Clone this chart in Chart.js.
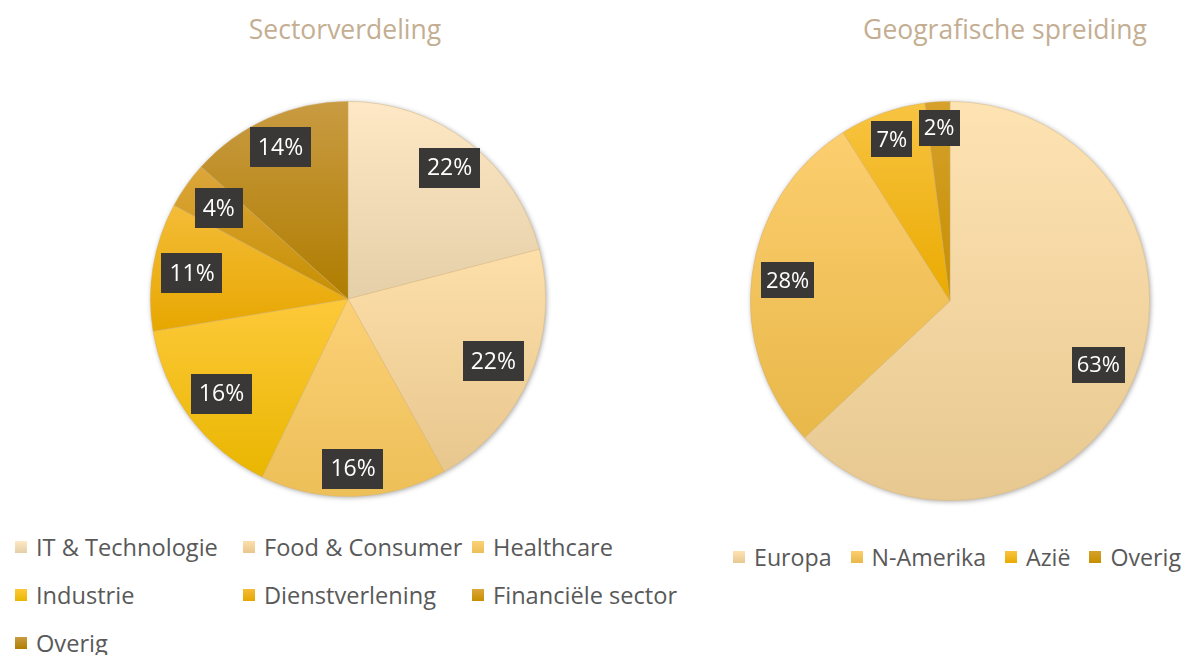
<!DOCTYPE html>
<html>
<head>
<meta charset="utf-8">
<script src="https://cdn.jsdelivr.net/npm/chart.js@4"></script>
<style>
  html, body { margin:0; padding:0; background:#ffffff; }
  #wrap { position:relative; width:1186px; height:655px; overflow:hidden; font-family:'Open Sans', sans-serif; }
  .title { position:absolute; top:11px; font-size:26.5px; font-weight:500; color:#C4AE92; white-space:nowrap; transform:translateX(-50%); }
  .pie { position:absolute; }
  .legend { position:absolute; color:#595959; }
  .legend .item { display:flex; align-items:center; height:48px; white-space:nowrap; }
  .legend .box { width:12px; height:12px; margin-right:9px; flex:none; }
  #legL { left:15px; top:523px; display:grid; grid-template-columns:228px 229px 220px; font-size:23.6px; }
  #legR { left:733px; top:533px; display:flex; gap:0 19px; font-size:23.2px; }
</style>
</head>
<body>
<div id="wrap">
  <div class="title" style="left:345px">Sectorverdeling</div>
  <div class="title" style="left:1005px">Geografische spreiding</div>
  <div class="pie" style="left:140px;top:91px;width:416px;height:416px"><canvas id="c1"></canvas></div>
  <div class="pie" style="left:740px;top:91px;width:420px;height:420px"><canvas id="c2"></canvas></div>
  <div class="legend" id="legL"></div>
  <div class="legend" id="legR"></div>
</div>
<script>
// ---- data ----
const sectorLabels = ['IT & Technologie', 'Food & Consumer', 'Healthcare', 'Industrie', 'Dienstverlening', 'Financiële sector', 'Overig'];
const sectorValues = [22, 22, 16, 16, 11, 4, 14];
const geoLabels = ['Europa', 'N-Amerika', 'Azië', 'Overig'];
const geoValues = [63, 28, 7, 2];

// ---- colours (top, bottom of each slice gradient) ----
const sectorColors = [
  ['#FEE8C5', '#E4CFA8'],
  ['#FDDFAA', '#E8C78E'],
  ['#FCD176', '#EDBF58'],
  ['#FDC93A', '#E9B600'],
  ['#F4BC38', '#E7A700'],
  ['#DCA63C', '#C68F00'],
  ['#C99B42', '#AF7D00']
];
const geoColors = [
  ['#FEE3B3', '#E7C890'],
  ['#FCCE6E', '#E8B84A'],
  ['#F8C442', '#EAAA00'],
  ['#D6A12C', '#C68F00']
];

function sliceGradient(colors) {
  return function(ctx) {
    const chart = ctx.chart;
    const area = chart.chartArea;
    const pair = colors[ctx.dataIndex];
    if (!area) return pair[0];
    const data = chart.data.datasets[0].data;
    const total = data.reduce((a, b) => a + b, 0);
    let cum = 0;
    for (let k = 0; k < ctx.dataIndex; k++) cum += data[k];
    const a0 = -Math.PI / 2 + cum / total * 2 * Math.PI;
    const a1 = a0 + data[ctx.dataIndex] / total * 2 * Math.PI;
    const cx = (area.left + area.right) / 2, cy = (area.top + area.bottom) / 2;
    const r = Math.min(area.right - area.left, area.bottom - area.top) / 2;
    const ys = [cy, cy + r * Math.sin(a0), cy + r * Math.sin(a1)];
    [-Math.PI / 2, Math.PI / 2, 3 * Math.PI / 2].forEach(t => { if (t > a0 && t < a1) ys.push(cy + r * Math.sin(t)); });
    const top = Math.min(...ys), bot = Math.max(...ys);
    const g = chart.ctx.createLinearGradient(0, top, 0, bot + 0.01);
    g.addColorStop(0, pair[0]);
    g.addColorStop(1, pair[1]);
    return g;
  };
}

const shadowPlugin = {
  id: 'pieShadow',
  beforeDatasetsDraw(chart) {
    const arc = chart.getDatasetMeta(0).data[0];
    if (!arc) return;
    const c = chart.ctx;
    c.save();
    c.shadowColor = 'rgba(0,0,0,0.35)';
    c.shadowBlur = 5;
    c.shadowOffsetX = 1;
    c.shadowOffsetY = 1;
    c.fillStyle = '#e8d2a8';
    c.beginPath();
    c.arc(arc.x, arc.y, arc.outerRadius, 0, Math.PI * 2);
    c.fill();
    c.restore();
  }
};

const boxLabelPlugin = {
  id: 'boxLabels',
  afterDatasetsDraw(chart, args, opts) {
    const c = chart.ctx;
    const meta = chart.getDatasetMeta(0);
    const data = chart.data.datasets[0].data;
    c.save();
    c.font = '500 ' + opts.fontSize + 'px "Open Sans"';
    c.textAlign = 'center';
    c.textBaseline = 'middle';
    meta.data.forEach((arc, i) => {
      const mid = (arc.startAngle + arc.endAngle) / 2;
      const f = opts.factors[i];
      const px = arc.x + Math.cos(mid) * arc.outerRadius * f;
      const py = arc.y + Math.sin(mid) * arc.outerRadius * f;
      const txt = data[i] + '%';
      const w = c.measureText(txt).width + opts.padX * 2;
      const h = opts.h;
      c.fillStyle = '#3A3836';
      c.fillRect(Math.round(px - w / 2), Math.round(py - h / 2), Math.round(w), h);
      c.fillStyle = '#ffffff';
      c.fillText(txt, px, py + 1);
    });
    c.restore();
  }
};

function makePie(id, labels, values, colors, labelOpts) {
  return new Chart(document.getElementById(id), {
    type: 'pie',
    data: {
      labels: labels,
      datasets: [{
        data: values,
        backgroundColor: sliceGradient(colors),
        borderColor: 'rgba(205,175,120,0.45)',
        borderWidth: 0.8,
        hoverOffset: 0
      }]
    },
    options: {
      responsive: true,
      maintainAspectRatio: false,
      animation: false,
      layout: { padding: 10 },
      plugins: {
        legend: { display: false },
        title: { display: false },
        tooltip: { enabled: false },
        boxLabels: labelOpts
      },
      events: []
    },
    plugins: [shadowPlugin, boxLabelPlugin]
  });
}

makePie('c1', sectorLabels, sectorValues, sectorColors,
  { fontSize: 23, padX: 8, h: 40, factors: [0.84, 0.80, 0.86, 0.80, 0.80, 0.80, 0.84] });
makePie('c2', geoLabels, geoValues, geoColors,
  { fontSize: 22, padX: 5, h: 36, factors: [0.81, 0.82, 0.86, 0.87] });

function buildLegend(elId, labels, colors) {
  const el = document.getElementById(elId);
  labels.forEach((lab, i) => {
    const item = document.createElement('div');
    item.className = 'item';
    const box = document.createElement('span');
    box.className = 'box';
    box.style.background = 'linear-gradient(to bottom,' + colors[i][0] + ',' + colors[i][1] + ')';
    const t = document.createElement('span');
    t.textContent = lab;
    item.appendChild(box);
    item.appendChild(t);
    el.appendChild(item);
  });
}
buildLegend('legL', sectorLabels, sectorColors);
buildLegend('legR', geoLabels, geoColors);
</script>
</body>
</html>
